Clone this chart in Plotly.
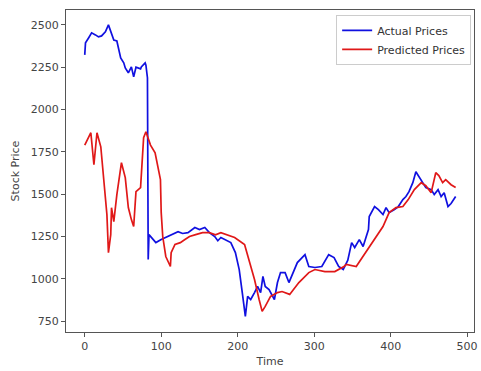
import plotly.graph_objects as go

# Actual prices (blue)
actual_t = [0, 1, 5, 9, 14, 18, 22, 27, 31, 35, 38, 42, 47, 51, 53, 57, 61, 64, 67, 73, 74, 79, 80, 82, 83,
            84, 86, 89, 93, 100, 106, 115, 122, 128, 135, 144, 150, 157, 163, 170, 174, 178, 186, 191, 197,
            202, 206, 210, 213, 217, 222, 226, 230, 233, 236, 241, 248, 252, 256, 262, 267, 278, 288, 293,
            301, 310, 319, 326, 332, 338, 344, 349, 353, 359, 364, 371, 372, 379, 384, 390, 394, 398, 405,
            410, 416, 420, 424, 429, 433, 437, 442, 446, 453, 457, 462, 466, 470, 475, 479, 482, 485]
actual_v = [2323, 2394, 2423, 2453, 2441, 2429, 2435, 2459, 2500, 2441, 2411, 2405, 2305, 2276, 2246, 2217,
            2252, 2193, 2250, 2240, 2252, 2276, 2262, 2187, 1114,
            1261, 1250, 1232, 1214, 1232, 1244, 1261, 1279, 1268, 1273, 1303, 1291, 1303, 1273, 1250, 1225,
            1244, 1226, 1214, 1155, 1055, 919, 778, 896, 878, 919, 955, 919, 1014, 955, 937, 878, 978, 1037,
            1037, 978, 1096, 1143, 1073, 1067, 1073, 1143, 1126, 1073, 1055, 1110, 1214, 1185, 1232, 1191,
            1291, 1368, 1427, 1409, 1380, 1421, 1391, 1409, 1427, 1468, 1486, 1515, 1568, 1633, 1604, 1568,
            1539, 1527, 1498, 1527, 1486, 1509, 1427, 1445, 1468, 1486]

# Predicted prices (red)
pred_t = [0, 8, 12, 16, 21, 25, 29, 31, 34, 35, 38, 42, 47, 48, 53, 57, 61, 64, 67, 73, 77, 80, 86, 92, 99,
          100, 102, 106, 112, 113, 118, 125, 131, 137, 145, 154, 163, 171, 178, 196, 209, 215, 222, 228, 232,
          236, 243, 252, 258, 268, 280, 293, 301, 314, 327, 339, 342, 355, 364, 372, 381, 390, 398, 407, 416,
          423, 431, 440, 446, 453, 459, 463, 468, 472, 479, 485]
pred_v = [1790, 1863, 1674, 1863, 1780, 1598, 1379, 1155, 1261, 1420, 1338, 1497, 1674, 1686, 1598, 1421,
          1350, 1309, 1515, 1539, 1834, 1869, 1790, 1745, 1586, 1391, 1250, 1132, 1073, 1155, 1203, 1214,
          1232, 1250, 1261, 1273, 1273, 1260, 1273, 1244, 1203, 1114, 996, 878, 808, 837, 896, 919, 925, 908,
          978, 1037, 1055, 1043, 1043, 1073, 1085, 1073, 1132, 1191, 1250, 1309, 1391, 1421, 1427, 1468,
          1527, 1568, 1550, 1509, 1627, 1610, 1568, 1586, 1556, 1539]

x_ticks = [0, 100, 200, 300, 400, 500]
y_ticks = [750, 1000, 1250, 1500, 1750, 2000, 2250, 2500]

fig = go.Figure()
fig.add_trace(go.Scatter(x=actual_t, y=actual_v, mode="lines", name="Actual Prices",
                         line=dict(color="#1010e0", width=1.7)))
fig.add_trace(go.Scatter(x=pred_t, y=pred_v, mode="lines", name="Predicted Prices",
                         line=dict(color="#e01818", width=1.7)))

axis_common = dict(showgrid=False, zeroline=False, showline=True, linecolor="#555", linewidth=1,
                   mirror=True, ticks="outside", ticklen=4, tickcolor="#555",
                   ticklabeloverflow="allow",
                   tickfont=dict(family="DejaVu Sans", size=11, color="#444"))

fig.update_layout(
    width=481, height=371,
    margin=dict(l=66, r=3, t=10, b=39),
    plot_bgcolor="white", paper_bgcolor="white",
    font=dict(family="DejaVu Sans", size=11, color="#444"),
    xaxis=dict(range=[-24.5, 509], tickvals=x_ticks,
               title=dict(text="Time", font=dict(size=11), standoff=5), **axis_common),
    yaxis=dict(range=[686, 2588], tickvals=y_ticks,
               title=dict(text="Stock Price", font=dict(size=11), standoff=8), **axis_common),
    legend=dict(x=0.993, y=0.985, xanchor="right", yanchor="top", itemwidth=30,
                bgcolor="rgba(255,255,255,0.8)", bordercolor="#ccc", borderwidth=1,
                font=dict(size=11, color="#333"), tracegroupgap=0),
    showlegend=True,
)

fig.write_html("out.html")
